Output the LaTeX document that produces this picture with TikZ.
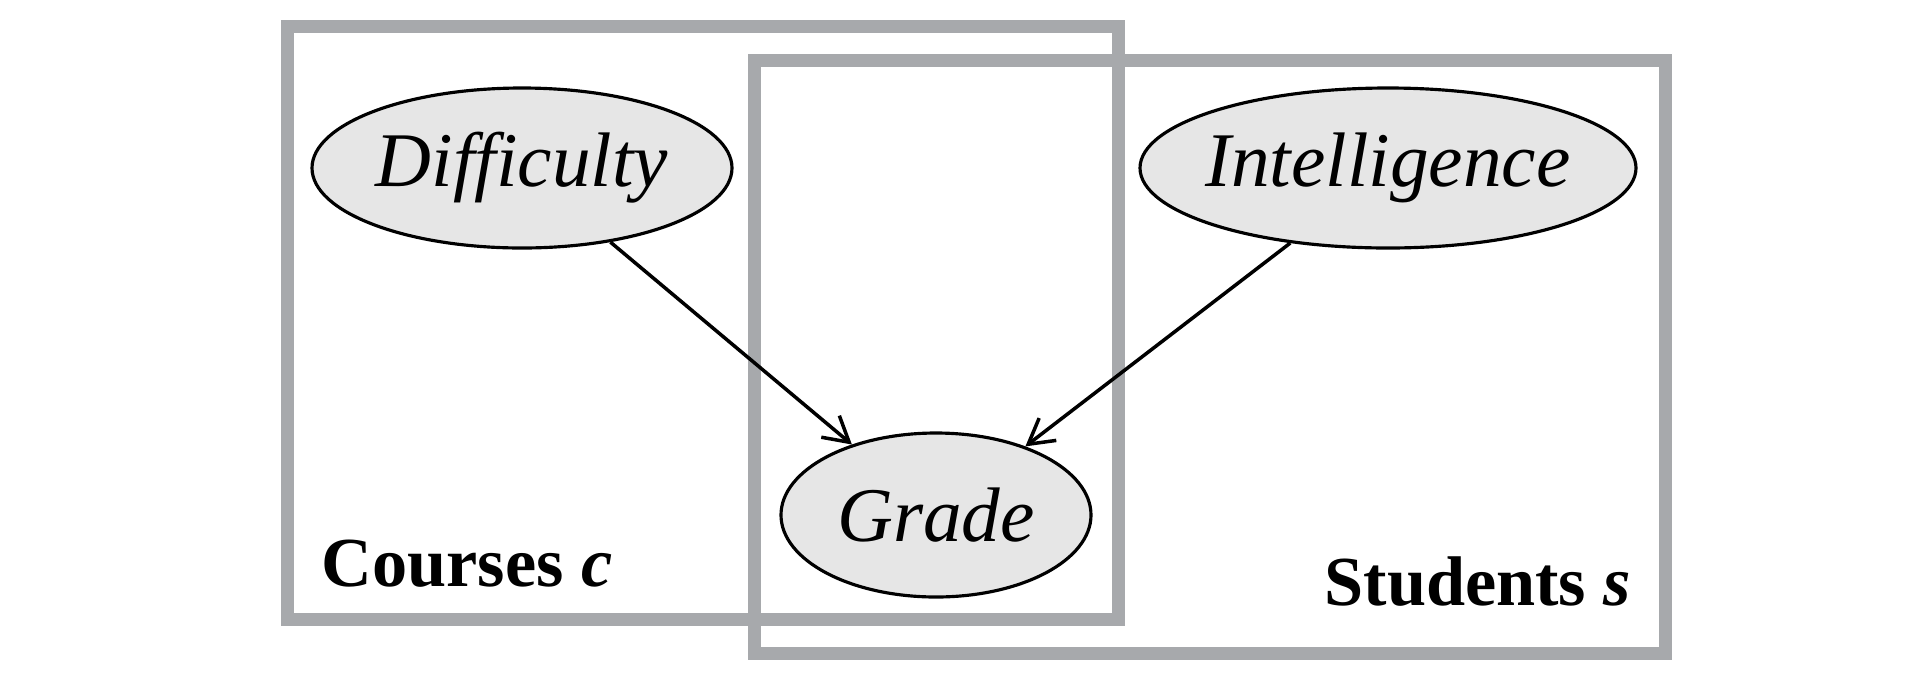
\documentclass[tikz,border=0pt]{standalone}
\usepackage{fontspec}
\setmainfont{Liberation Serif}
\usepackage{tikz}
\usetikzlibrary{shapes.geometric, arrows.meta}
\definecolor{plategray}{RGB}{167,169,172}
\definecolor{varfill}{RGB}{230,230,230}
\tikzstyle{every node}=[font=\fontsize{22}{26}\selectfont\itshape]
\tikzstyle{var} = [ellipse, draw=black, line width=0.9pt, fill=varfill, inner sep=0pt, minimum height=1.6cm]
\tikzstyle{plate} = [rectangle, draw=plategray, line width=3.7pt]
\tikzstyle{platelabel} = [font=\fontsize{20}{24}\selectfont\bfseries, inner sep=0pt]
\tikzstyle{arrow} = [line width=1pt,-{Straight Barb[length=7pt, width=8pt, line width=1pt]}]

\begin{document}
\begin{tikzpicture}
        \useasboundingbox (0,0) rectangle (19.22,6.80);
        \node (courses) [plate, minimum width=8.31cm, minimum height=5.93cm] at (7.025,3.575) {};
          \node (courseslbl) [platelabel, anchor=base west] at (3.21,0.94) {Courses \textit{c}};
        \node (students) [plate, minimum width=9.11cm, minimum height=5.93cm] at (12.095,3.235) {};
          \node (studentslbl) [platelabel, anchor=base east] at (16.32,0.75) {Students \textit{s}};

        \node (diff) [var, minimum width=4.2cm] at (5.22,5.12) {Difficulty};
        \node (intel) [var, minimum width=4.96cm, inner xsep=-1mm] at (13.88,5.12) {Intelligence};
        \node (grade) [var, minimum width=3.1cm, minimum height=1.64cm] at (9.36,1.65) {Grade};

        \draw [arrow] (diff) -- (grade);
        \draw [arrow] (intel) -- (grade);
      \end{tikzpicture}
\end{document}
